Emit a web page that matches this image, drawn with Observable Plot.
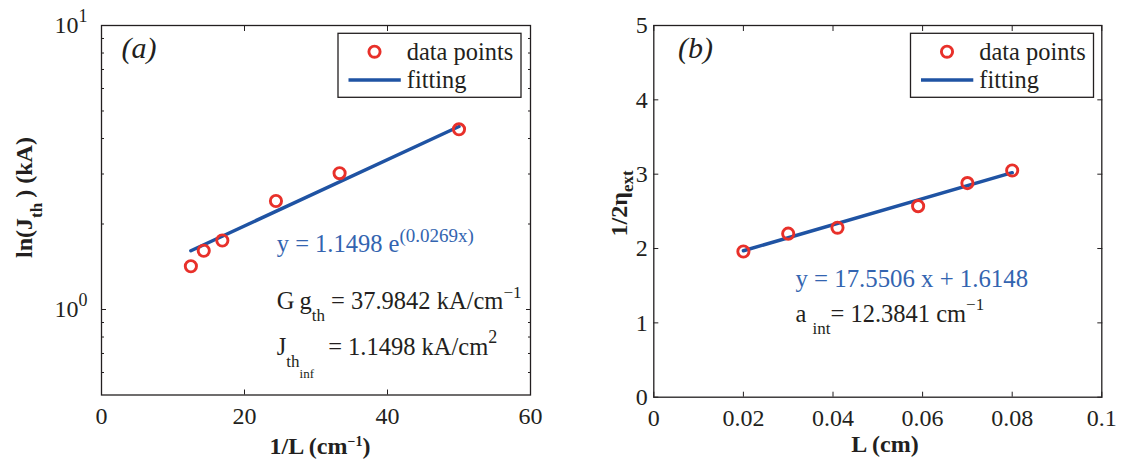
<!DOCTYPE html>
<html><head><meta charset="utf-8">
<script src="https://cdn.jsdelivr.net/npm/d3@7"></script>
<script src="https://cdn.jsdelivr.net/npm/@observablehq/plot@0.6"></script>
<style>
html,body{margin:0;padding:0;background:#fff;}
#wrap{position:relative;width:1129px;height:464px;overflow:hidden;background:#fff;}
#a,#b{position:absolute;top:0;}
#a{left:0;width:560px;} #b{left:560px;width:569px;}
</style></head><body><div id="wrap"><div id="a"></div><div id="b"></div></div>
<script>
// ---------- data ----------
// panel (a): threshold current vs inverse cavity length (log y)
const invL = [12.5, 14.3, 16.9, 24.4, 33.3, 50.0];
const jth  = [1.42, 1.61, 1.75, 2.41, 3.02, 4.31];
const fitInvL = [12.5, 50.0];
const fitJth  = [1.61, 4.41];
const xTicksA = [0, 20, 40, 60];
const yTicksA = [1, 10];
const yMinorA = [0.6, 0.7, 0.8, 0.9, 2, 3, 4, 5, 6, 7, 8, 9];
// panel (b): inverse external efficiency vs cavity length
const lengthCm = [0.02, 0.03, 0.041, 0.059, 0.07, 0.08];
const invEta   = [1.96, 2.20, 2.28, 2.57, 2.88, 3.05];
const fitL      = [0.02, 0.08];
const fitInvEta = [1.97, 3.02];
const xTicksB = [0, 0.02, 0.04, 0.06, 0.08, 0.1];
const yTicksB = [0, 1, 2, 3, 4, 5];
const legendLabels = ["data points", "fitting"];

// ---------- style ----------
const FONT = "'Liberation Serif','Times New Roman',serif";
const INK = "#231f20";
const RED = "#e8302a";
const LINE = "#1f53a3";
const BLUE = "#3364b0";

const ptsA = invL.map((x, i) => ({x, y: jth[i]}));
const fitA = fitInvL.map((x, i) => ({x, y: fitJth[i]}));
const ptsB = lengthCm.map((x, i) => ({x, y: invEta[i]}));
const fitB = fitL.map((x, i) => ({x, y: fitInvEta[i]}));

const baseStyle = {fontFamily: FONT, fontSize: "24px", color: INK, background: "transparent", overflow: "visible"};

const figA = Plot.plot({
  width: 560, height: 464,
  marginLeft: 101, marginRight: 30, marginTop: 25, marginBottom: 69.5,
  style: baseStyle,
  x: {domain: [0, 60]},
  y: {type: "log", domain: [0.5, 10]},
  marks: [
    Plot.axisX(xTicksA, {anchor: "bottom", tickSize: -5, tickPadding: 16.5, label: null, tickFormat: d => String(d)}),
    Plot.axisX(xTicksA, {anchor: "top", tickSize: -5, fill: "none", label: null}),
    Plot.axisY(yTicksA, {anchor: "left", tickSize: -5, tickPadding: 19, label: null, tickFormat: d => "10^" + Math.round(Math.log10(d))}),
    Plot.axisY(yTicksA, {anchor: "right", tickSize: -5, fill: "none", label: null}),
    Plot.axisY(yMinorA, {anchor: "left", tickSize: -3, fill: "none", label: null}),
    Plot.axisY(yMinorA, {anchor: "right", tickSize: -3, fill: "none", label: null}),
    Plot.frame({stroke: INK, strokeWidth: 1.3}),
    Plot.line(fitA, {x: "x", y: "y", stroke: LINE, strokeWidth: 3.5}),
    Plot.dot(ptsA, {x: "x", y: "y", r: 5.6, stroke: RED, strokeWidth: 2.9, fill: "none"})
  ]
});

const figB = Plot.plot({
  width: 569, height: 464,
  marginLeft: 93.3, marginRight: 27.7, marginTop: 25, marginBottom: 67.3,
  style: baseStyle,
  x: {domain: [0, 0.1]},
  y: {domain: [0, 5]},
  marks: [
    Plot.axisX(xTicksB, {anchor: "bottom", tickSize: -5, tickPadding: 16.3, label: null, tickFormat: d => String(d)}),
    Plot.axisX(xTicksB, {anchor: "top", tickSize: -5, fill: "none", label: null}),
    Plot.axisY(yTicksB, {anchor: "left", tickSize: -5, tickPadding: 11, label: null, tickFormat: d => String(d)}),
    Plot.axisY(yTicksB, {anchor: "right", tickSize: -5, fill: "none", label: null}),
    Plot.frame({stroke: INK, strokeWidth: 1.3}),
    Plot.line(fitB, {x: "x", y: "y", stroke: LINE, strokeWidth: 3.5}),
    Plot.dot(ptsB, {x: "x", y: "y", r: 5.6, stroke: RED, strokeWidth: 2.9, fill: "none"})
  ]
});

document.getElementById("a").appendChild(figA);
document.getElementById("b").appendChild(figB);

// superscripts in log tick labels ("10^0" -> 10 with raised 0)
d3.select(figA).selectAll("text").each(function () {
  const s = this.textContent;
  if (s.includes("^")) {
    const [base, exp] = s.split("^");
    const el = d3.select(this);
    el.text(base);
    el.append("tspan").attr("font-size", 18).attr("dy", -11).text(exp);
  }
});

// rich text helper: parts = [text, size, baselineShift, dx]
function rich(svg, o, parts) {
  const t = d3.select(svg).append("text")
    .attr("font-family", FONT).attr("font-size", o.size)
    .attr("fill", o.color || INK)
    .attr("font-weight", o.weight || null)
    .attr("font-style", o.italic ? "italic" : null)
    .attr("text-anchor", o.anchor || "start");
  if (o.rotate) t.attr("transform", `translate(${o.x},${o.y}) rotate(${o.rotate})`);
  else t.attr("x", o.x).attr("y", o.y);
  let cur = 0;
  for (const [str, size, shift = 0, dx = 0] of parts) {
    t.append("tspan").attr("font-size", size || o.size).attr("dy", shift - cur).attr("dx", dx || null).text(str);
    cur = shift;
  }
  return t;
}

function legend(svg, x0, y0) {
  const g = d3.select(svg).append("g");
  g.append("rect").attr("x", x0).attr("y", y0).attr("width", 183).attr("height", 64)
    .attr("fill", "#fff").attr("stroke", INK).attr("stroke-width", 1.3);
  g.append("circle").attr("cx", x0 + 36.5).attr("cy", y0 + 18.4).attr("r", 5.6)
    .attr("fill", "none").attr("stroke", RED).attr("stroke-width", 2.9);
  g.append("line").attr("x1", x0 + 10.5).attr("x2", x0 + 62.8).attr("y1", y0 + 46.7).attr("y2", y0 + 46.7)
    .attr("stroke", LINE).attr("stroke-width", 3.5);
  rich(svg, {x: x0 + 68.8, y: y0 + 26.7, size: 24.4}, [[legendLabels[0]]]);
  rich(svg, {x: x0 + 68.8, y: y0 + 54.7, size: 24.4}, [[legendLabels[1]]]);
}

// ----- panel (a) texts -----
legend(figA, 338, 33.3);
rich(figA, {x: 121.4, y: 58, size: 30, italic: true}, [["(a)"]]);
rich(figA, {x: 276.8, y: 251.7, size: 24.5, color: BLUE}, [["y = 1.1498 e"], ["(0.0269x)", 19, -10]]);
rich(figA, {x: 276.8, y: 309, size: 24.5}, [["G\u2009g"], ["th", 17, 12], [" = 37.9842 kA/cm", 24.5, 0], ["\u22121", 17, -11]]);
rich(figA, {x: 276.8, y: 355, size: 24.5}, [["J"], ["th", 17, 11.7], ["inf", 13, 23.3], [" = 1.1498 kA/cm", 24.5, 0, 8], ["2", 18, -12]]);
rich(figA, {x: 320, y: 454, size: 24, weight: "bold", anchor: "middle"}, [["1/L (cm"], ["\u22121", 14, -8], [")", 24, 0]]);
rich(figA, {x: 31.5, y: 197.5, size: 24, weight: "bold", anchor: "middle", rotate: -90}, [["ln(J"], ["th", 17, 10], [") (kA)", 24, 0, 5]]);

// ----- panel (b) texts (local coordinates, svg starts at x=560) -----
legend(figB, 350.5, 33.3);
rich(figB, {x: 118, y: 58, size: 30, italic: true}, [["(b)"]]);
rich(figB, {x: 235.5, y: 286.7, size: 24.8, color: BLUE}, [["y = 17.5506 x + 1.6148"]]);
rich(figB, {x: 235.5, y: 321.7, size: 24.5}, [["a "], ["int", 17, 12.5], ["= 12.3841 cm", 24.5, 0], ["\u22121", 17, -11.7]]);
rich(figB, {x: 325, y: 451.7, size: 24, weight: "bold", anchor: "middle"}, [["L (cm)"]]);
rich(figB, {x: 66.7, y: 203.4, size: 24, weight: "bold", anchor: "middle", rotate: -90}, [["1/2\u03b7"], ["ext", 17, 6.5]]);
</script></body></html>
